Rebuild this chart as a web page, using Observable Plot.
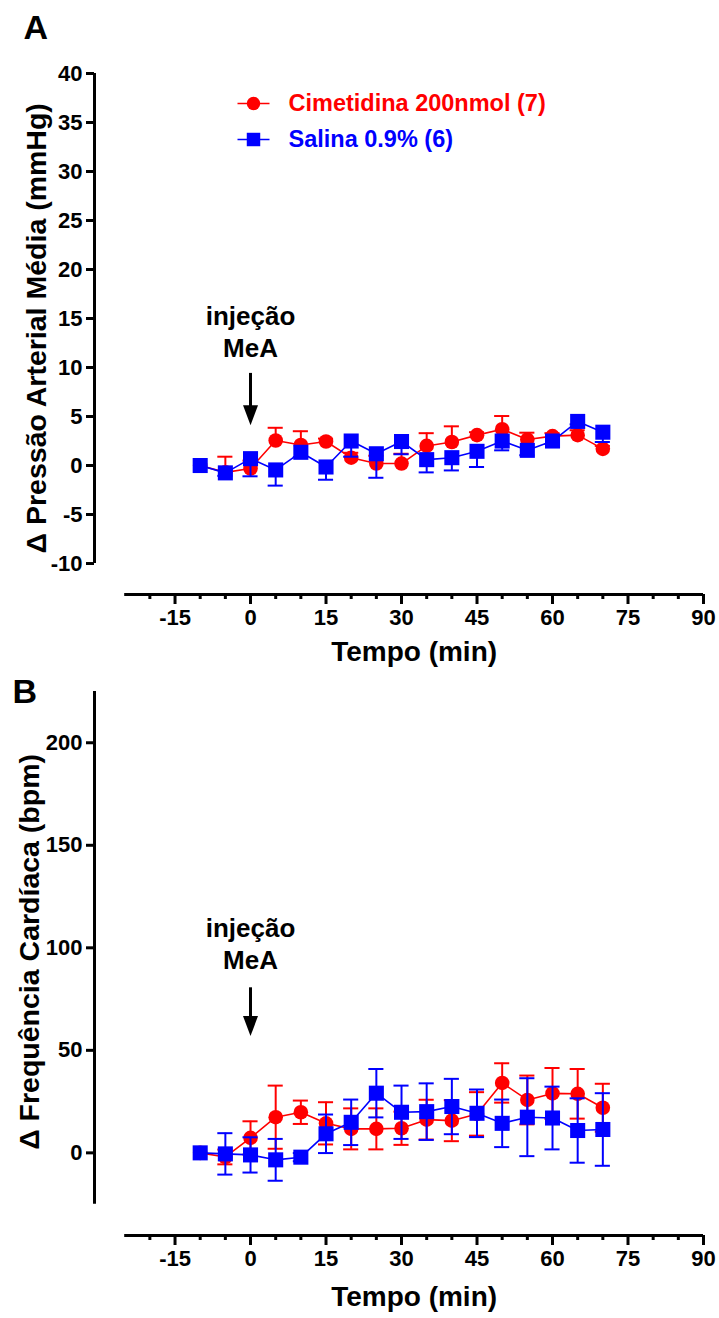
<!DOCTYPE html>
<html><head><meta charset="utf-8">
<script src="https://cdn.jsdelivr.net/npm/d3@7"></script>
<script src="https://cdn.jsdelivr.net/npm/@observablehq/plot@0.6"></script>
<style>
body{margin:0;background:#fff;}
#chart{width:719px;}
#chart svg{display:block;}
</style></head><body><div id="chart"></div>
<script>
// ---- data ----
const times = [-10,-5,0,5,10,15,20,25,30,35,40,45,50,55,60,65,70];
const seriesNames = ["Cimetidina 200nmol (7)", "Salina 0.9% (6)"];
const seriesColors = ["#ff0000", "#0000ff"];
const seriesSymbols = ["circle", "square"];

// Panel A: Δ Pressão Arterial Média (mmHg)
const papCimMean = [0,-0.7,-0.3,2.55,2.1,2.45,0.8,0.2,0.2,2.0,2.4,3.1,3.7,2.65,3.0,3.1,1.7];
const papCimErr  = [0,1.6,0.8,1.3,1.4,0.3,0.5,0.8,1.0,1.3,1.6,0.3,1.35,0.7,0.3,0.5,0.3];
const papSalMean = [0,-0.75,0.7,-0.45,1.35,-0.15,2.5,1.2,2.45,0.6,0.8,1.45,2.5,1.55,2.5,4.5,3.4];
const papSalErr  = [0,0.3,1.8,1.6,0.5,1.3,1.6,2.45,1.3,1.3,1.3,1.6,0.95,0.5,0.3,0.3,1.0];

// Panel B: Δ Frequência Cardíaca (bpm)
const fcCimMean = [0,-2,7.3,17.4,19.8,14.4,11.7,11.7,12.0,16.2,15.7,19.0,34.1,25.8,29.0,28.8,22.0];
const fcCimErr  = [0,3.6,8.1,15.4,5.7,10.3,10.0,10.0,8.1,9.7,10.0,10.6,9.6,11.9,12.4,12.1,11.7];
const fcSalMean = [0,-0.5,-1.0,-3.4,-2.1,9.3,14.9,29.1,19.8,20.1,22.6,19.3,14.4,17.4,17.0,10.9,11.4];
const fcSalErr  = [0,10.1,8.6,10.2,2.0,9.4,11.1,11.8,13.0,13.8,13.5,11.6,11.6,19.0,15.3,15.7,17.7];

const xTicksMajor = [-15,0,15,30,45,60,75,90];
const xTicksMinor = [-20,-10,-5,5,10,20,25,35,40,50,55,65,70,80,85];
const xAxisExtent = [-25, 90];
const papTicks = [-10,-5,0,5,10,15,20,25,30,35,40];
const fcTicks = [0,50,100,150,200];
const xLabel = "Tempo (min)";
const papLabel = "Δ Pressão Arterial Média (mmHg)";
const fcLabel = "Δ Frequência Cardíaca (bpm)";
const annotLines = "injeção\nMeA";

// ---- helpers ----
const FONT = "'Liberation Sans', Arial, sans-serif";
const fmt = d => `${d}`;
function rowsOf(means, errs, si) {
  return times.map((t, i) => ({t, mean: means[i], err: errs[i], s: si}));
}

const arrowHead = {
  draw(ctx) { ctx.moveTo(-7.5, -20); ctx.lineTo(7.5, -20); ctx.lineTo(0, 0); ctx.closePath(); }
};
const legendLine = {
  draw(ctx) { ctx.moveTo(-16, 0); ctx.lineTo(16, 0); }
};

function panel(o) {
  const marks = [];
  // axes
  marks.push(Plot.ruleX([o.xDomain[0]], {y1: o.yAxis[0], y2: o.yAxis[1], strokeWidth: 3}));
  marks.push(Plot.axisY(o.yTicks, {tickSize: 8, tickPadding: 4, strokeWidth: 3, fontSize: 22, fontWeight: "bold", tickFormat: fmt, label: null}));
  marks.push(Plot.ruleY([o.yDomain[0]], {x1: xAxisExtent[0], x2: xAxisExtent[1], strokeWidth: 3}));
  marks.push(Plot.axisX(xTicksMajor, {tickSize: 10, tickPadding: 5, strokeWidth: 3, fontSize: 22, fontWeight: "bold", tickFormat: fmt, label: null}));
  marks.push(Plot.axisX(xTicksMinor, {tickSize: 5, strokeWidth: 3, tickFormat: () => "", label: null}));
  marks.push(Plot.text([xLabel], {x: (xAxisExtent[0] + xAxisExtent[1]) / 2, frameAnchor: "bottom", dy: o.xLabelDy, fontSize: 28, fontWeight: "bold", textAnchor: "middle", lineAnchor: "middle"}));
  marks.push(Plot.text([o.yLabel], {y: o.yLabelAt, frameAnchor: "left", dx: o.yLabelDx, rotate: -90, fontSize: 28.5, fontWeight: "bold", textAnchor: "middle", lineAnchor: "middle"}));

  // data series (red first, blue on top)
  o.series.forEach((rows, si) => {
    const color = seriesColors[si];
    const dir = o.dirs[si];
    const er = rows.filter(d => d.err > 0);
    const lo = d => dir === "up" ? d.mean : d.mean - d.err;
    const hi = d => dir === "down" ? d.mean : d.mean + d.err;
    marks.push(Plot.line(rows, {x: "t", y: "mean", stroke: color, strokeWidth: 1.6}));
    marks.push(Plot.ruleX(er, {x: "t", y1: lo, y2: hi, stroke: color, strokeWidth: 2}));
    const caps = [];
    er.forEach(d => {
      if (dir !== "down") caps.push({t: d.t, v: d.mean + d.err});
      if (dir !== "up") caps.push({t: d.t, v: d.mean - d.err});
    });
    marks.push(Plot.ruleY(caps, {y: "v", x1: d => d.t - 1.5, x2: d => d.t + 1.5, stroke: color, strokeWidth: 2}));
    marks.push(Plot.dot(rows, {x: "t", y: "mean", symbol: seriesSymbols[si], r: si === 0 ? 7.3 : 8.5, fill: color, stroke: "none"}));
  });

  // annotation
  marks.push(Plot.text([annotLines], {x: 0, y: o.annot.text, textAnchor: "middle", lineAnchor: "bottom", lineHeight: 1.22, fontSize: 26, fontWeight: "bold"}));
  marks.push(Plot.ruleX([0], {y1: o.annot.start, y2: o.annot.tip, strokeWidth: 3, insetBottom: 10}));
  marks.push(Plot.dot([0], {x: d => d, y: () => o.annot.tip, symbol: arrowHead, r: 5, fill: "black", stroke: "none"}));

  // legend
  if (o.legend) {
    seriesNames.forEach((name, si) => {
      const dy = 30 + si * 36;
      marks.push(Plot.dot([name], {frameAnchor: "top-left", dx: 159, dy, symbol: legendLine, r: 5, stroke: seriesColors[si], strokeWidth: 1.6, fill: "none"}));
      marks.push(Plot.dot([name], {frameAnchor: "top-left", dx: 159, dy, symbol: seriesSymbols[si], r: si === 0 ? 6.7 : 7.6, fill: seriesColors[si], stroke: "none"}));
      marks.push(Plot.text([name], {frameAnchor: "top-left", dx: 194, dy, text: d => d, textAnchor: "start", lineAnchor: "middle", fill: seriesColors[si], fontSize: 23.5, fontWeight: "bold"}));
    });
  }

  // panel letter
  marks.push(Plot.text([o.letter], {frameAnchor: "top-left", dx: o.letterPos[0], dy: o.letterPos[1], textAnchor: "start", lineAnchor: "bottom", fontSize: 34, fontWeight: "bold"}));

  return Plot.plot({
    width: 719,
    height: o.height,
    marginLeft: 94,
    marginRight: 16,
    marginTop: o.marginTop,
    marginBottom: o.marginBottom,
    x: {domain: o.xDomain},
    y: {domain: o.yDomain},
    style: {fontFamily: FONT, fontSize: "22px", background: "white", color: "black", overflow: "visible"},
    marks
  });
}

const chart = document.getElementById("chart");
chart.appendChild(panel({
  height: 670, marginTop: 73, marginBottom: 76,
  xDomain: [-31, 90], yDomain: [-13.16, 40], yAxis: [-10, 40], yTicks: papTicks,
  yLabel: papLabel, yLabelAt: 14, yLabelDx: -58, xLabelDy: 58,
  series: [rowsOf(papCimMean, papCimErr, 0), rowsOf(papSalMean, papSalErr, 1)],
  dirs: ["up", "down"],
  annot: {text: 11.1, start: 9.4, tip: 4.1},
  legend: true, letter: "A", letterPos: [-71, -35]
}));
chart.appendChild(panel({
  height: 648, marginTop: 21, marginBottom: 83,
  xDomain: [-31, 90], yDomain: [-40.3, 225], yAxis: [-25, 225], yTicks: fcTicks,
  yLabel: fcLabel, yLabelAt: 98, yLabelDx: -65, xLabelDy: 62,
  series: [rowsOf(fcCimMean, fcCimErr, 0), rowsOf(fcSalMean, fcSalErr, 1)],
  dirs: ["both", "both"],
  annot: {text: 89.9, start: 80.5, tip: 57},
  legend: false, letter: "B", letterPos: [-82, 11]
}));
</script>
</body></html>
